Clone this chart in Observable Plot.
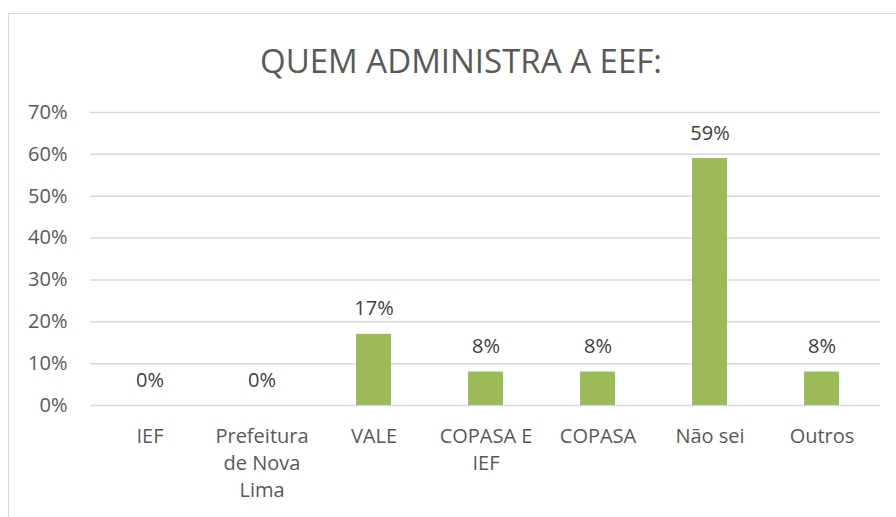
<!DOCTYPE html>
<html>
<head>
<meta charset="utf-8">
<script src="https://cdn.jsdelivr.net/npm/d3@7"></script>
<script src="https://cdn.jsdelivr.net/npm/@observablehq/plot@0.6"></script>
<style>
  html, body { margin: 0; padding: 0; background: #fff; }
  body { width: 896px; height: 517px; overflow: hidden; position: relative; font-family: "Open Sans", sans-serif; }
  #frame { position: absolute; left: 8px; top: 13px; width: 1000px; height: 600px; border-left: 1px solid #d9d9d9; border-top: 1px solid #d9d9d9; }
  #title { position: absolute; left: 0; top: 36px; width: 922px; text-align: center; font-size: 33px; color: #595959; line-height: 50px; }
  #chart { position: absolute; left: 0; top: 90px; }
</style>
</head>
<body>
<div id="frame"></div>
<div id="title">QUEM ADMINISTRA A EEF:</div>
<div id="chart"></div>
<script>
const categories = ["IEF", "Prefeitura de Nova Lima", "VALE", "COPASA E IEF", "COPASA", "Não sei", "Outros"];
const tickLabels = ["IEF", "Prefeitura\nde Nova\nLima", "VALE", "COPASA E\nIEF", "COPASA", "Não sei", "Outros"];
const values = [0, 0, 17, 8, 8, 59, 8];
const yTicks = [0, 10, 20, 30, 40, 50, 60, 70];

const data = categories.map((c, i) => ({category: c, value: values[i]}));
const labelOf = new Map(categories.map((c, i) => [c, tickLabels[i]]));

const chart = Plot.plot({
  width: 896,
  height: 427,
  marginTop: 22,
  marginBottom: 112,
  marginLeft: 90,
  marginRight: 16,
  style: {fontFamily: "Open Sans, sans-serif", color: "#595959", background: "transparent"},
  x: {domain: categories, paddingInner: 0.69, paddingOuter: 0.345, align: 0.5, label: null},
  y: {domain: [0, 70], label: null},
  marks: [
    Plot.gridY(yTicks, {stroke: "#d9d9d9", strokeOpacity: 1, strokeWidth: 1.5}),
    Plot.barY(data, {x: "category", y: "value", fill: "#9BBB59"}),
    Plot.text(data, {x: "category", y: "value", text: d => d.value + "%", lineAnchor: "bottom", dy: -19, fontSize: 20, fill: "#404040"}),
    Plot.axisY(yTicks, {tickSize: 0, tickPadding: 23, tickFormat: d => d + "%", fontSize: 20, fill: "#595959", label: null}),
    Plot.axisX({tickSize: 0, tickPadding: 18, tickFormat: d => labelOf.get(d), fontSize: 20, lineHeight: 1.35, fill: "#595959", lineAnchor: "top", label: null})
  ]
});
document.getElementById("chart").appendChild(chart);
</script>
</body>
</html>
